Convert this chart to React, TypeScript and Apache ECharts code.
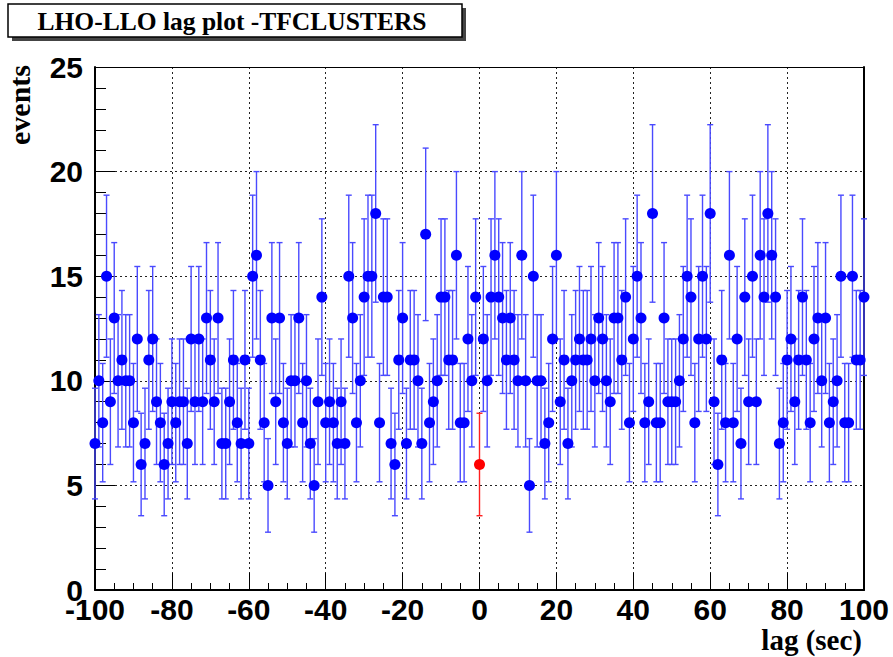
import React, { useEffect, useRef } from "react";
import * as echarts from "echarts";

// lag axis: integer seconds from LAG_START, one bin per second
const LAG_START = -100;
const HIGHLIGHT_LAG = 0;

// events per lag bin, lag -100 .. 100
const events: number[] = [
  // -100 .. -81
  7, 10, 8, 15, 9, 13, 10, 11, 10, 10, 8, 12, 6, 7, 11, 12, 9, 8, 6, 7,
  // -80 .. -61
  9, 8, 9, 9, 7, 12, 9, 12, 9, 13, 11, 9, 13, 7, 7, 9, 11, 8, 7, 11,
  // -60 .. -41
  7, 15, 16, 11, 8, 5, 13, 9, 13, 8, 7, 10, 10, 13, 8, 10, 7, 5, 9, 14,
  // -40 .. -21
  8, 9, 8, 7, 9, 7, 15, 13, 8, 10, 14, 15, 15, 18, 8, 14, 14, 7, 6, 11,
  // -20 .. -1
  13, 7, 11, 11, 10, 7, 17, 8, 9, 10, 14, 14, 11, 11, 16, 8, 8, 12, 10, 14,
  // 0
  6,
  // 1 .. 20
  12, 10, 14, 16, 14, 13, 11, 13, 11, 10, 16, 10, 5, 15, 10, 10, 7, 8, 12, 16,
  // 21 .. 40
  9, 11, 7, 10, 11, 12, 11, 11, 12, 10, 13, 12, 10, 9, 13, 13, 11, 14, 8, 12,
  // 41 .. 60
  15, 13, 8, 9, 18, 8, 8, 13, 9, 9, 9, 10, 12, 15, 14, 8, 12, 15, 12, 18,
  // 61 .. 80
  9, 6, 11, 8, 16, 8, 12, 7, 14, 9, 15, 9, 16, 14, 18, 16, 14, 7, 8, 11,
  // 81 .. 100
  12, 9, 11, 14, 11, 8, 12, 13, 10, 13, 8, 9, 10, 15, 8, 8, 15, 11, 11, 14,
];

const TITLE = "LHO-LLO lag plot -TFCLUSTERS";
const Y_NAME = "events";
const X_NAME = "lag (sec)";

export default function App() {
  const ref = useRef<HTMLDivElement>(null);

  useEffect(() => {
    if (!ref.current) return;
    const chart = echarts.init(ref.current, undefined, { renderer: "svg" });

    const points = events.map((v, i) => [LAG_START + i, v, Math.sqrt(v)]);
    const blue = points.filter((p) => p[0] !== HIGHLIGHT_LAG);
    const red = points.filter((p) => p[0] === HIGHLIGHT_LAG);

    const labelFont = {
      fontFamily: "Liberation Sans",
      fontWeight: "bold" as const,
      fontSize: 30,
      color: "#000",
    };

    const option: any = {
      animation: false,
      backgroundColor: "#fff",
      grid: { left: 95, right: 29, top: 67, bottom: 67 },
      xAxis: [
        {
          type: "value",
          min: -100,
          max: 100,
          interval: 20,
          position: "bottom",
          axisLine: { show: true, onZero: false, lineStyle: { color: "#000", width: 2 } },
          axisTick: { show: true, inside: true, length: 17, lineStyle: { color: "#000", width: 1 } },
          minorTick: { show: true, splitNumber: 4, length: 7, lineStyle: { color: "#000", width: 1 } },
          splitLine: { show: true, lineStyle: { color: "#222", width: 1, type: [2, 3] } },
          axisLabel: { ...labelFont, margin: 4, showMinLabel: true, showMaxLabel: true },
        },
        {
          type: "value",
          min: -100,
          max: 100,
          position: "top",
          axisLine: { show: true, onZero: false, lineStyle: { color: "#000", width: 1 } },
          axisTick: { show: false },
          axisLabel: { show: false },
          splitLine: { show: false },
        },
      ],
      yAxis: [
        {
          type: "value",
          min: 0,
          max: 25,
          interval: 5,
          position: "left",
          axisLine: { show: true, onZero: false, lineStyle: { color: "#000", width: 2 } },
          axisTick: { show: true, inside: true, length: 20, lineStyle: { color: "#000", width: 1 } },
          minorTick: { show: true, splitNumber: 5, length: 11, lineStyle: { color: "#000", width: 1 } },
          splitLine: { show: true, lineStyle: { color: "#222", width: 1, type: [2, 3] } },
          axisLabel: { ...labelFont, margin: 12 },
        },
        {
          type: "value",
          min: 0,
          max: 25,
          position: "right",
          axisLine: { show: true, onZero: false, lineStyle: { color: "#000", width: 2 } },
          axisTick: { show: false },
          axisLabel: { show: false },
          splitLine: { show: false },
        },
      ],
      series: [
        {
          type: "custom",
          xAxisIndex: 0,
          yAxisIndex: 0,
          z: 2,
          data: points,
          renderItem: (params: any, api: any) => {
            const x = api.value(0);
            const y = api.value(1);
            const e = api.value(2);
            const top = api.coord([x, y + e]);
            const bot = api.coord([x, y - e]);
            const color = x === HIGHLIGHT_LAG ? "#ff2020" : "#4a4aff";
            const hw = 3;
            const style = { stroke: color, lineWidth: 1.4 };
            return {
              type: "group",
              children: [
                { type: "line", shape: { x1: top[0], y1: top[1], x2: bot[0], y2: bot[1] }, style },
                { type: "line", shape: { x1: top[0] - hw, y1: top[1], x2: top[0] + hw, y2: top[1] }, style },
                { type: "line", shape: { x1: bot[0] - hw, y1: bot[1], x2: bot[0] + hw, y2: bot[1] }, style },
              ],
            };
          },
        },
        {
          type: "scatter",
          z: 3,
          symbol: "circle",
          symbolSize: 11,
          itemStyle: { color: "#0000ff", opacity: 1 },
          data: blue.map((p) => [p[0], p[1]]),
        },
        {
          type: "scatter",
          z: 4,
          symbol: "circle",
          symbolSize: 11,
          itemStyle: { color: "#ff0000", opacity: 1 },
          data: red.map((p) => [p[0], p[1]]),
        },
      ],
      graphic: [
        {
          type: "rect",
          shape: { x: 12, y: 8, width: 454, height: 33 },
          style: { fill: "#444" },
          z: 10,
        },
        {
          type: "rect",
          shape: { x: 8, y: 4, width: 454, height: 33 },
          style: { fill: "#fff", stroke: "#000", lineWidth: 1.5 },
          z: 11,
        },
        {
          type: "text",
          x: 232,
          y: 21,
          z: 12,
          style: {
            text: TITLE,
            fontFamily: "Liberation Serif",
            fontWeight: "bold",
            fontSize: 25.5,
            fill: "#000",
            textAlign: "center",
            textVerticalAlign: "middle",
          },
        },
        {
          type: "text",
          x: 19,
          y: 105,
          rotation: Math.PI / 2,
          z: 12,
          style: {
            text: Y_NAME,
            fontFamily: "Liberation Serif",
            fontWeight: "bold",
            fontSize: 30,
            fill: "#000",
            textAlign: "center",
            textVerticalAlign: "middle",
          },
        },
        {
          type: "text",
          x: 862,
          y: 625,
          z: 12,
          style: {
            text: X_NAME,
            fontFamily: "Liberation Serif",
            fontWeight: "bold",
            fontSize: 29,
            fill: "#000",
            textAlign: "right",
            textVerticalAlign: "top",
          },
        },
      ],
    };

    chart.setOption(option);
    return () => chart.dispose();
  }, []);

  return (
    <div
      ref={ref}
      style={{ position: "absolute", left: 0, top: 0, width: 893, height: 657, background: "#fff" }}
    />
  );
}
